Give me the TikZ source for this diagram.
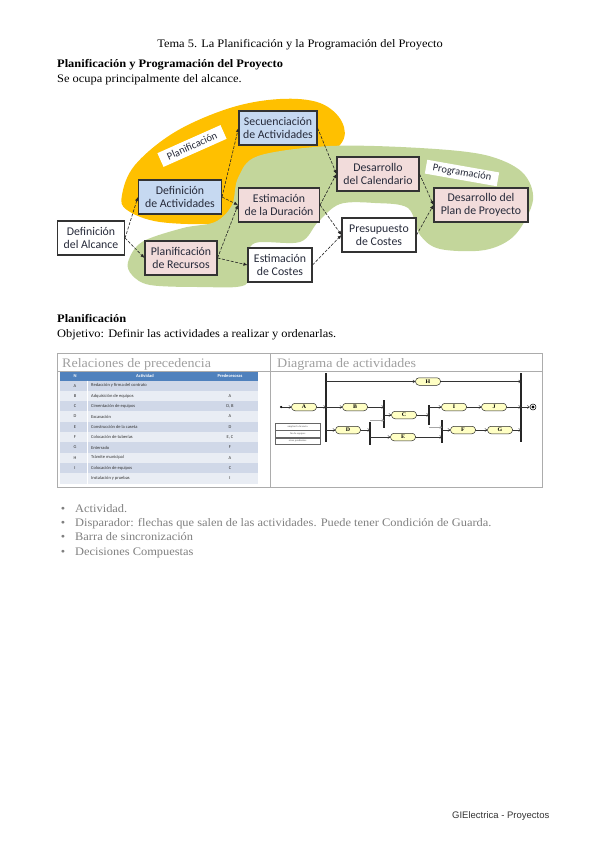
\documentclass[tikz,border=0pt]{standalone}
\usepackage{fontspec}
\setmainfont[FakeStretch=1.08]{Liberation Serif}
\newfontfamily\boxfont{Carlito}
\newfontfamily\footfont{Liberation Sans}
\usepackage{tikz}
\usetikzlibrary{arrows.meta,positioning,calc}
\definecolor{orangezone}{HTML}{FFC000}
\definecolor{greenzone}{HTML}{C3D69B}
\definecolor{procblue}{HTML}{C6D9F1}
\definecolor{procpink}{HTML}{F2DCDB}
\definecolor{boxink}{HTML}{262A3A}
\definecolor{pillyellow}{HTML}{FFFFC4}
\definecolor{tabhead}{HTML}{4F81BD}
\definecolor{rowdark}{HTML}{D0D8E8}
\definecolor{rowlight}{HTML}{E9EDF4}
\definecolor{notegray}{HTML}{7F7F7F}
\tikzset{
  bodytext/.style={inner sep=0pt,font=\fontsize{11.5}{13}\selectfont},
  procbox/.style={rectangle,draw=black!80,line width=1.1pt,text=boxink,align=center,
    font=\boxfont\fontsize{11.8}{13.4}\selectfont,minimum height=34pt,inner sep=1.5pt},
  bluebox/.style={procbox,fill=procblue},
  pinkbox/.style={procbox,fill=procpink},
  whitebox/.style={procbox,fill=white},
  zonelabel/.style={rectangle,fill=white,text=boxink,inner sep=0pt,
    font=\boxfont\fontsize{10.5}{12}\selectfont},
  deparr/.style={-{Latex[length=4pt,width=3.5pt]},line width=0.6pt,color=black!85,
    dash pattern=on 3pt off 1.5pt},
  tabrow/.style={rectangle,minimum width=198pt,minimum height=10.3pt,inner sep=0pt},
  tabcell/.style={inner sep=0pt,text=black!80,font=\boxfont\fontsize{4.5}{5}\selectfont},
  pill/.style={rectangle,rounded corners=3.5pt,draw=black!85,line width=0.5pt,fill=pillyellow,
    minimum width=25pt,minimum height=7.5pt,inner sep=0pt,font=\bfseries\fontsize{5.5}{6}\selectfont},
  syncbar/.style={rectangle,fill=black!85,minimum width=1.6pt,inner sep=0pt},
  flowarr/.style={-{Straight Barb[length=2pt,width=3pt]},line width=0.45pt,color=black!80},
  legrow/.style={rectangle,draw=black!60,line width=0.3pt,minimum width=45pt,minimum height=7pt,
    inner sep=0.5pt,font=\fontsize{2.5}{3}\selectfont,text=black!70},
  notetext/.style={inner sep=0pt,text=notegray,font=\fontsize{11.5}{13}\selectfont},
}
\begin{document}
\begin{tikzpicture}[x=1pt,y=-1pt]
  \useasboundingbox (0,0) rectangle (599,848);
  % cabecera
  \node[bodytext,anchor=base] (tema) at (300,48) {Tema 5. La Planificación y la Programación del Proyecto};
  \node[bodytext,anchor=base west,font=\bfseries\fontsize{11.5}{13}\selectfont] (sec1) at (57,68) {Planificación y Programación del Proyecto};
  \node[bodytext,anchor=base west] (alc) at (57,83) {Se ocupa principalmente del alcance.};

  % zonas
  \fill[orangezone] plot[smooth cycle,tension=0.6] coordinates {
    (122,195) (135,165) (175,132) (230,108) (280,99) (320,103) (342,122)
    (340,145) (300,172) (255,210) (220,223) (160,222) (127,210)};
  \fill[greenzone] plot[smooth cycle,tension=0.55] coordinates {
    (128,262) (142,242) (183,228) (215,222) (232,205) (238,178) (258,156)
    (330,146) (420,148) (485,155) (522,172) (533,200) (515,235) (485,250)
    (440,249) (420,235) (408,208) (375,203) (340,204) (318,222) (300,242)
    (255,243) (247,262) (245,285) (200,287) (150,285) (132,275)};
  \node[zonelabel,minimum width=69pt,minimum height=15pt,rotate=24] (lplan) at (192,146) {Planificación};
  \node[zonelabel,minimum width=73pt,minimum height=14pt,rotate=-10] (lprog) at (462,173) {Programación};

  % procesos
  \node[whitebox,minimum width=67pt] (alcance) at (91,238) {Definición\\del Alcance};
  \node[bluebox,minimum width=83pt] (defact) at (180,197) {Definición\\de Actividades};
  \node[bluebox,minimum width=78pt] (secact) at (278,128) {Secuenciación\\de Actividades};
  \node[pinkbox,minimum width=81pt] (estdur) at (279,205) {Estimación\\de la Duración};
  \node[pinkbox,minimum width=72pt] (planrec) at (181,258) {Planificación\\de Recursos};
  \node[whitebox,minimum width=64pt] (estcos) at (280,265) {Estimación\\de Costes};
  \node[pinkbox,minimum width=82pt] (descal) at (378,174) {Desarrollo\\del Calendario};
  \node[whitebox,minimum width=74pt] (presup) at (379,235) {Presupuesto\\de Costes};
  \node[pinkbox,minimum width=94pt] (desplan) at (481,205) {Desarrollo del\\Plan de Proyecto};

  \draw[deparr] (alcance.east) -- (defact.west);
  \draw[deparr] (alcance.east) -- (planrec.west);
  \draw[deparr] (defact.east) -- (secact.west);
  \draw[deparr] (defact.east) -- (estdur.west);
  \draw[deparr] (planrec.east) -- (estdur.west);
  \draw[deparr] (planrec.east) -- (estcos.west);
  \draw[deparr] (secact.east) -- (descal.west);
  \draw[deparr] (estdur.east) -- (descal.west);
  \draw[deparr] (estdur.east) -- (presup.west);
  \draw[deparr] (estcos.east) -- (presup.west);
  \draw[deparr] (descal.east) -- (desplan.west);
  \draw[deparr] (presup.east) -- (desplan.west);

  % planificacion
  \node[bodytext,anchor=base west,font=\bfseries\fontsize{11.5}{13}\selectfont] (sec2) at (57,322) {Planificación};
  \node[bodytext,anchor=base west] (obj) at (57,337) {Objetivo: Definir las actividades a realizar y ordenarlas.};

  % marco de la tabla
  \draw[gray!65,line width=0.9pt] (57,353) rectangle (542,487);
  \draw[gray!65,line width=0.7pt] (57,371) -- (542,371);
  \draw[gray!65,line width=0.7pt] (270,353) -- (270,487);
  \node[inner sep=0pt,anchor=base west,text=gray!75,font=\fontsize{13}{15}\selectfont] (hrel) at (62,367) {Relaciones de precedencia};
  \node[inner sep=0pt,anchor=base west,text=gray!75,font=\fontsize{13}{15}\selectfont] (hdia) at (277,367) {Diagrama de actividades};

  % relaciones de precedencia
  \node[tabrow,fill=tabhead,minimum height=8.5pt] (rowh) at (159,376.25) {};
  \node[tabcell,text=white,font=\boxfont\bfseries\fontsize{4.5}{5}\selectfont] at (75,376.25) {N};
  \node[tabcell,text=white,font=\boxfont\bfseries\fontsize{4.5}{5}\selectfont] at (145,376.25) {Actividad};
  \node[tabcell,text=white,font=\boxfont\bfseries\fontsize{4.5}{5}\selectfont] at (230,376.25) {Predecesoras};
  \foreach \lt/\act/\pre/\rc [count=\i] in {
      A/Redacción y firma del contrato/{}/rowdark,
      B/Adquisición de equipos/A/rowlight,
      C/Cimentación de equipos/{D, B}/rowdark,
      D/Excavación/A/rowlight,
      E/Construcción de la caseta/D/rowdark,
      F/Colocación de tuberías/{E, C}/rowlight,
      G/Enterrado/F/rowdark,
      H/Trámite municipal/A/rowlight,
      I/Colocación de equipos/C/rowdark,
      {}/Instalación y pruebas/I/rowlight}
  {
    \pgfmathsetmacro\ry{380.5+10.3*(\i-0.5)}
    \node[tabrow,fill=\rc] (row\i) at (159,\ry) {};
    \draw[white,line width=0.6pt] (87,\ry-5.15) -- (87,\ry+5.15);
    \node[tabcell] at (75,\ry) {\lt};
    \node[tabcell,anchor=west] at (91,\ry) {\act};
    \node[tabcell] at (230,\ry) {\pre};
  }

  % diagrama de actividades
  \node[circle,fill=black,minimum size=2.5pt,inner sep=0pt] (ini) at (281,407) {};
  \node[pill] (pA) at (304,407) {A};
  \node[syncbar,minimum height=69pt] (bar1) at (326,407.5) {};
  \node[pill] (pH) at (428,381.5) {H};
  \node[pill] (pB) at (355,407) {B};
  \node[pill] (pD) at (348,430) {D};
  \node[syncbar,minimum height=28pt] (bar2) at (384,414) {};
  \node[syncbar,minimum height=23pt] (bar3) at (370,433.5) {};
  \node[pill] (pC) at (404,415) {C};
  \node[pill] (pE) at (403,437) {E};
  \node[syncbar,minimum height=20pt] (bar4) at (429,415) {};
  \node[syncbar,minimum height=23pt] (bar5) at (442,431.5) {};
  \node[pill] (pI) at (454,407) {I};
  \node[pill] (pJ) at (494,407) {J};
  \node[pill] (pF) at (463,430) {F};
  \node[pill] (pG) at (500,430) {G};
  \node[syncbar,minimum height=69pt] (barF) at (521,407.5) {};
  \node[circle,draw=black,line width=0.5pt,minimum size=6pt,inner sep=0pt] (fin) at (533,407) {};
  \fill[black] (fin) circle (1.6pt);

  \draw[flowarr] (ini) -- (pA);
  \draw[flowarr] (pA) -- (bar1 |- pA);
  \draw[flowarr] (bar1 |- pH) -- (pH);
  \draw[flowarr] (pH) -- (barF |- pH);
  \draw[flowarr] (bar1 |- pB) -- (pB);
  \draw[flowarr] (pB) -- (bar2 |- pB);
  \draw[flowarr] (bar1 |- pD) -- (pD);
  \draw[flowarr] (pD) -- (bar3 |- pD);
  \draw[flowarr,black!35] ([yshift=1.5pt]bar3.north) -- ([yshift=1.5pt]bar3.north -| bar2);
  \draw[flowarr] (bar2 |- pC) -- (pC);
  \draw[flowarr] (pC) -- (bar4 |- pC);
  \draw[flowarr] (bar3 |- pE) -- (pE);
  \draw[flowarr] (pE) -- (bar5 |- pE);
  \draw[flowarr] (bar4 |- pI) -- (pI);
  \draw[flowarr] (pI) -- (pJ);
  \draw[flowarr] (pJ) -- (barF |- pJ);
  \draw[flowarr,black!35] ([yshift=-2pt]bar4.south) -- ([yshift=-2pt]bar4.south -| bar5);
  \draw[flowarr] (bar5 |- pF) -- (pF);
  \draw[flowarr] (pF) -- (pG);
  \draw[flowarr] (pG) -- (barF |- pG);
  \draw[flowarr] (barF |- fin) -- (fin);

  % leyenda
  \node[legrow,anchor=north west] (leg1) at (275,423) {ampliar la licencia};
  \node[legrow,anchor=north,below=0pt of leg1] (leg2) {fin de equipos};
  \node[legrow,anchor=north,below=0pt of leg2,minimum height=6pt] (leg3) {otros pendientes};

  % notas
  \foreach \txt [count=\k] in {Actividad.,
      Disparador: flechas que salen de las actividades. Puede tener Condición de Guarda.,
      Barra de sincronización,
      Decisiones Compuestas}
  {
    \pgfmathsetmacro\ny{512+14.4*(\k-1)}
    \node[notetext,anchor=base] (bul\k) at (63,\ny) {\textbullet};
    \node[notetext,anchor=base west] (note\k) at (75,\ny) {\txt};
  }

  % pie
  \node[inner sep=0pt,anchor=base west,text=black!80,font=\footfont\fontsize{9.5}{11}\selectfont] (pie) at (452,818) {GIElectrica - Proyectos};
\end{tikzpicture}
\end{document}
